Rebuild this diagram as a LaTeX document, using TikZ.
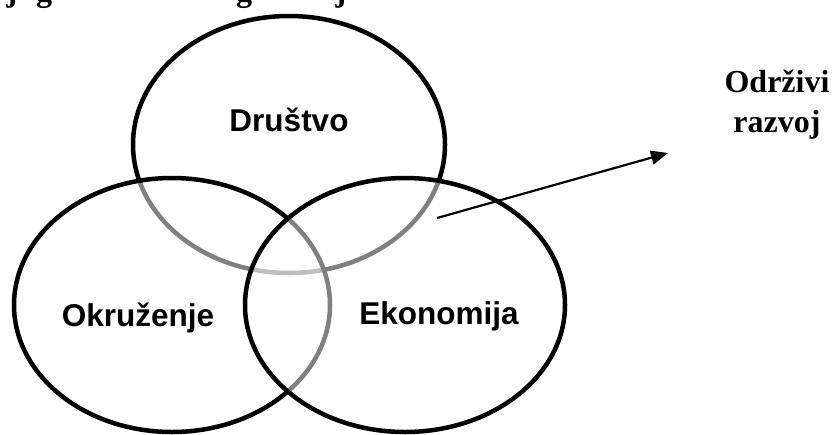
\documentclass[tikz,border=0pt]{standalone}
\usepackage{fontspec}
\setmainfont{Liberation Serif}
\newfontfamily\arialfont{Liberation Sans}
\usetikzlibrary{arrows.meta}
\begin{document}
\begin{tikzpicture}[x=1pt,y=-1pt,
  ring/.style={line width=4.5pt, draw=black},
  veil/.style={ring, fill=white, fill opacity=0.5},
  lbl/.style={font=\arialfont\bfseries\fontsize{31.5}{36}\selectfont, anchor=base, inner sep=0pt},
  srl/.style={font=\bfseries\fontsize{32}{40}\selectfont, anchor=base, inner sep=0pt},
  pointer/.style={line width=2.2pt, -{Triangle[length=17pt,width=14pt]}},
  ]
\useasboundingbox (0,0) rectangle (834,434);
% cut-off caption line above the picture
\begin{scope}
  \clip (0,0) rectangle (834,434);
  \node[srl] (c1) at (12,1) {j};
  \node[srl] (c2) at (44,1) {g};
  \node[srl] (c3) at (244,1) {g};
  \node[srl] (c4) at (341,1) {j};
\end{scope}
% the three circles
\draw[ring] (289,144.5) ellipse [x radius=156pt, y radius=128.5pt];
\draw[veil] (172,305) ellipse [x radius=158pt, y radius=127pt];
\draw[veil] (405,305) ellipse [x radius=160pt, y radius=127pt];
% labels
\node[lbl] (drustvo) at (289,131) {Društvo};
\node[lbl] (okruzenje) at (138,326) {Okruženje};
\node[lbl] (ekonomija) at (439,324) {Ekonomija};
\node[srl] (odrzivi) at (777,92) {Održivi};
\node[srl] (razvoj) at (777,132) {razvoj};
% arrow
\coordinate (from) at (437,218);
\coordinate (to) at (668,153);
\draw[pointer] (from) -- (to);
\end{tikzpicture}
\end{document}
